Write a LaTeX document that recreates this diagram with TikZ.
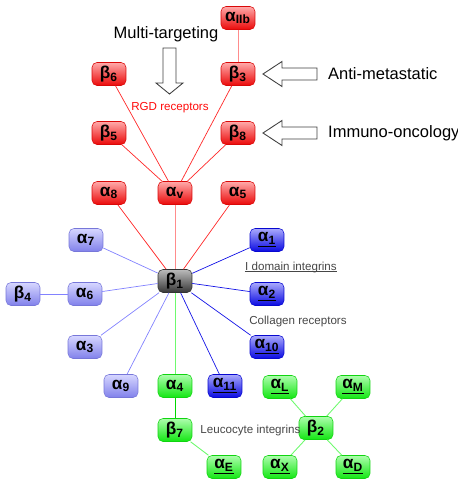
\documentclass[tikz,border=0pt]{standalone}
\usepackage{fontspec}
\setmainfont{Liberation Sans}
\usetikzlibrary{calc, positioning}
\definecolor{rgdred}{RGB}{255,10,10}
\definecolor{redline}{RGB}{255,40,40}
\definecolor{pinkline}{RGB}{255,140,140}
\definecolor{lblue}{RGB}{140,140,255}
\definecolor{lblueline}{RGB}{130,130,255}
\definecolor{dblue}{RGB}{10,10,245}
\definecolor{dblueline}{RGB}{20,20,230}
\definecolor{lgreen}{RGB}{20,250,20}
\definecolor{greenline}{RGB}{0,215,0}
\definecolor{lgreenline}{RGB}{110,250,110}
\definecolor{darkbox}{RGB}{60,60,60}
\definecolor{txtgray}{RGB}{70,70,70}
\newcommand{\intg}[2]{#1\textsubscript{#2}}
\newcommand{\uintg}[2]{\underline{#1\textsubscript{#2}}}

\begin{document}
\begin{tikzpicture}[x=0.02cm, y=-0.02cm,
	int/.style={rounded corners=2.8pt, minimum width=0.68cm, minimum height=0.46cm, inner sep=0pt,
		font=\fontsize{9.8}{10}\selectfont\bfseries, draw=#1!85!black, line width=0.3pt,
		top color=#1!35, middle color=#1, bottom color=#1!92!black},
	blockarrow/.style={draw=black!75, fill=white, line width=0.5pt},
	lab/.style={font=\fontsize{9.4}{11}\selectfont},
	small/.style={font=\fontsize{6.6}{8}\selectfont, text=txtgray}]
	\useasboundingbox (0,0) rectangle (457,484);
	
	% RGD receptors
	\node[int=rgdred] (aIIb) at (238,18) {\intg{α}{IIb}};
	\node[int=rgdred] (b3) at (238,74) {\intg{β}{3}};
	\node[int=rgdred] (b6) at (109,74) {\intg{β}{6}};
	\node[int=rgdred] (b5) at (109,133) {\intg{β}{5}};
	\node[int=rgdred] (b8) at (238,133) {\intg{β}{8}};
	\node[int=rgdred] (a8) at (109,193) {\intg{α}{8}};
	\node[int=rgdred] (av) at (175,193) {\intg{α}{v}};
	\node[int=rgdred] (a5) at (238,193) {\intg{α}{5}};
	
	% beta1 and partners
	\node[int=darkbox] (b1) at (175,281) {\intg{β}{1}};
	\node[int=lblue] (a7) at (86,240) {\intg{α}{7}};
	\node[int=lblue] (a6) at (85,294) {\intg{α}{6}};
	\node[int=lblue] (b4) at (23,294) {\intg{β}{4}};
	\node[int=lblue] (a3) at (85,347) {\intg{α}{3}};
	\node[int=lblue] (a9) at (121,386) {\intg{α}{9}};
	\node[int=dblue] (a1) at (267,240) {\uintg{α}{1}};
	\node[int=dblue] (a2) at (267,294) {\uintg{α}{2}};
	\node[int=dblue] (a10) at (267,347) {\uintg{α}{10}};
	\node[int=dblue] (a11) at (225,386) {\uintg{α}{11}};
	
	% leucocyte integrins
	\node[int=lgreen] (a4) at (175,386) {\intg{α}{4}};
	\node[int=lgreen] (b7) at (175,430) {\intg{β}{7}};
	\node[int=lgreen] (aE) at (224,467) {\uintg{α}{E}};
	\node[int=lgreen] (b2) at (316,428) {\intg{β}{2}};
	\node[int=lgreen] (aL) at (280,387) {\uintg{α}{L}};
	\node[int=lgreen] (aM) at (353,387) {\uintg{α}{M}};
	\node[int=lgreen] (aX) at (280,467) {\uintg{α}{X}};
	\node[int=lgreen] (aD) at (353,467) {\uintg{α}{D}};
	
	% connectors
	\draw[pinkline, line width=0.4pt] (aIIb) -- (b3);
	\foreach \n in {b3,b6,b5,b8}
		\draw[redline, line width=0.4pt] (\n) -- (av);
	\draw[redline, line width=0.4pt] (a8) -- (b1);
	\draw[redline, line width=0.4pt] (a5) -- (b1);
	\draw[pinkline, line width=0.4pt] (av) -- (b1);
	\foreach \n in {a7,a6,a3,a9}
		\draw[lblueline, line width=0.4pt] (\n) -- (b1);
	\draw[lblueline, line width=0.4pt] (b4) -- (a6);
	\foreach \n in {a1,a2,a10,a11}
		\draw[dblueline, line width=0.4pt] (\n) -- (b1);
	\draw[lgreenline, line width=0.5pt] (b1) -- (a4);
	\draw[greenline, line width=0.5pt] (a4) -- (b7);
	\draw[lgreenline, line width=0.5pt] (b7) -- (aE);
	\foreach \n in {aL,aM,aX,aD}
		\draw[lgreenline, line width=0.5pt] (\n) -- (b2);
	
	% group labels
	\node[small, text=rgdred] (rgd) at (170,108) {RGD receptors};
	\node[small, inner sep=0pt] (idom) at (291,267) {I domain integrins};
	\draw[txtgray, line width=0.3pt] ([yshift=-1pt]idom.base west) -- ([yshift=-1pt]idom.base east);
	\node[small] (coll) at (298,321) {Collagen receptors};
	\node[small, right=0.4mm of b7] (leuco) {Leucocyte integrins};
	
	% therapeutic arrows
	\node[lab] (multi) at (166,34) {Multi-targeting};
	\draw[blockarrow] (163,48) -- (176,48) -- (176,83) -- (183,83) -- (169.5,94) -- (156,83) -- (163,83) -- cycle;
	\draw[blockarrow] (263,74) -- (282,61.5) -- (282,68) -- (317,68) -- (317,80) -- (282,80) -- (282,86.5) -- cycle;
	\node[lab, anchor=west] (anti) at (322,74) {Anti-metastatic};
	\draw[blockarrow] (263,133) -- (282,120.5) -- (282,127) -- (317,127) -- (317,139) -- (282,139) -- (282,145.5) -- cycle;
	\node[lab, anchor=west] (immuno) at (322,133) {Immuno-oncology};
\end{tikzpicture}
\end{document}
